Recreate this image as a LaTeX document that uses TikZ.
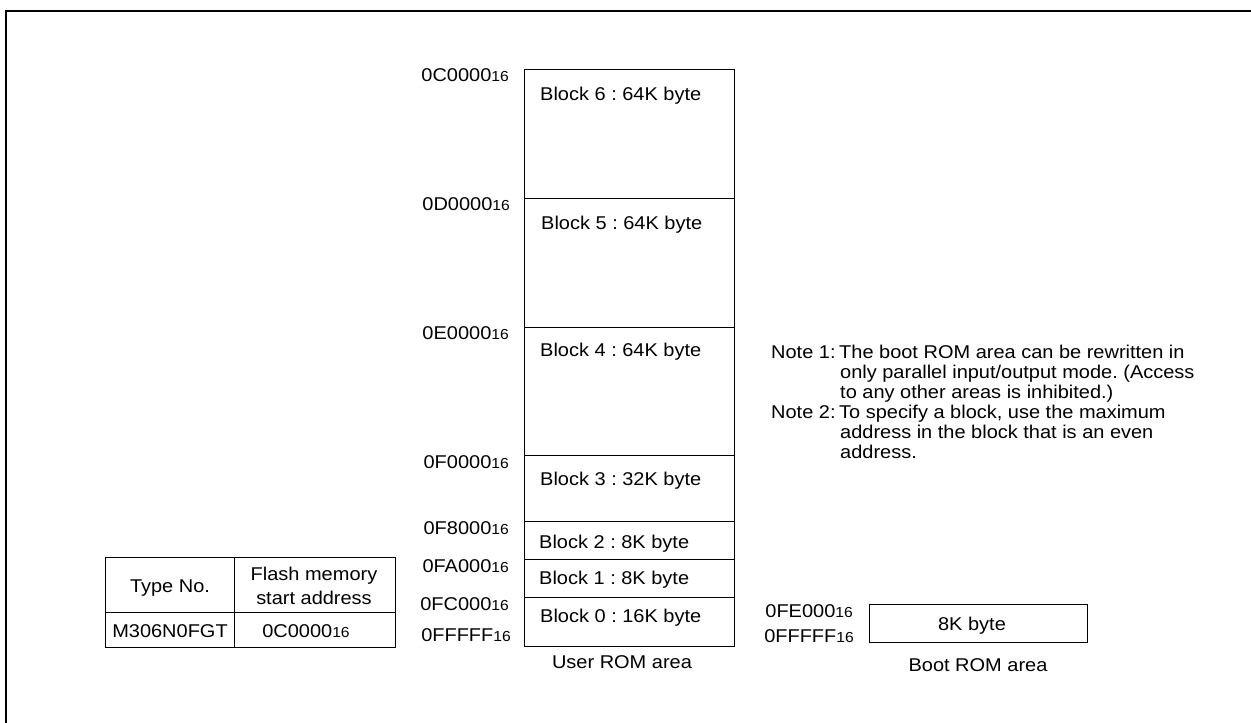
\documentclass[tikz,border=0pt]{standalone}
\usepackage{fontspec}
\setmainfont[FakeStretch=1.08]{Liberation Sans}
\frenchspacing
\newcommand\fs{\fontsize{18.5}{20}\selectfont\frenchspacing}
\newcommand\hsub[1]{{\fontsize{14.5}{14}\selectfont #1}}
\begin{document}
\begin{tikzpicture}[x=1pt,y=-1pt,
  blk/.style={draw, line width=1pt, minimum width=210pt, inner sep=0pt, anchor=north west},
  cell/.style={draw, line width=1pt, inner sep=0pt, anchor=north west},
  txt/.style={inner sep=0pt, font=\fs},
  lbl/.style={inner sep=0pt, font=\fs, anchor=base east},
  frame/.style={line width=2.6pt, line join=miter}]
\useasboundingbox (0,0) rectangle (1251,723);
% frame
\coordinate (fa) at (6,723);
\coordinate (fb) at (6,11);
\coordinate (fc) at (1251,11);
\draw[frame] (fa) -- (fb) -- (fc);
% user ROM blocks
\node[blk, minimum height=129pt] (b6) at (524,69) {};
\node[blk, minimum height=129pt] (b5) at (524,198) {};
\node[blk, minimum height=128pt] (b4) at (524,327) {};
\node[blk, minimum height=66pt] (b3) at (524,455) {};
\node[blk, minimum height=38pt] (b2) at (524,521) {};
\node[blk, minimum height=38pt] (b1) at (524,559) {};
\node[blk, minimum height=49pt] (b0) at (524,597) {};
\node[txt, anchor=base west] (t6) at (540,100) {Block 6 : 64K byte};
\node[txt, anchor=base west] (t5) at (541,229) {Block 5 : 64K byte};
\node[txt, anchor=base west] (t4) at (540,356) {Block 4 : 64K byte};
\node[txt, anchor=base west] (t3) at (540,485) {Block 3 : 32K byte};
\node[txt, anchor=base west] (t2) at (539,548) {Block 2 : 8K byte};
\node[txt, anchor=base west] (t1) at (539,584) {Block 1 : 8K byte};
\node[txt, anchor=base west] (t0) at (540,622) {Block 0 : 16K byte};
\node[txt, anchor=base] (uarea) at (622,668) {User ROM area};
% addresses
\node[lbl] (a6) at (509,81) {0C0000\hsub{16}};
\node[lbl] (a5) at (510,210) {0D0000\hsub{16}};
\node[lbl] (a4) at (509,339) {0E0000\hsub{16}};
\node[lbl] (a3) at (509,468) {0F0000\hsub{16}};
\node[lbl] (a2) at (509,534) {0F8000\hsub{16}};
\node[lbl] (a1) at (509,572) {0FA000\hsub{16}};
\node[lbl] (a0) at (509,610) {0FC000\hsub{16}};
\node[lbl] (ae) at (511,641) {0FFFFF\hsub{16}};
% table
\node[cell, minimum width=129pt, minimum height=55pt] (c11) at (105,557) {};
\node[cell, minimum width=161pt, minimum height=55pt] (c12) at (234,557) {};
\node[cell, minimum width=129pt, minimum height=35pt] (c21) at (105,612) {};
\node[cell, minimum width=161pt, minimum height=35pt] (c22) at (234,612) {};
\node[txt, anchor=base] (typeno) at (170,592) {Type No.};
\node[txt, anchor=base] (flash1) at (314,580) {Flash memory};
\node[txt, anchor=base] (flash2) at (314,604) {start address};
\node[txt, anchor=base] (typev) at (170,637) {M306N0FGT};
\node[txt, anchor=base] (addrv) at (306,637) {0C0000\hsub{16}};
% boot ROM
\node[cell, minimum width=218pt, minimum height=38pt] (boot) at (869,604) {};
\node[txt, anchor=base] (bt) at (972,630) {8K byte};
\node[txt, anchor=base] (barea) at (978,671) {Boot ROM area};
\node[lbl] (ba0) at (853,617) {0FE000\hsub{16}};
\node[lbl] (ba1) at (854,642) {0FFFFF\hsub{16}};
% notes
\node[txt, anchor=base west] (n1) at (771,358) {Note 1:};
\node[txt, anchor=base west] (n1a) at (839,358) {The boot ROM area can be rewritten in};
\node[txt, anchor=base west] (n1b) at (840,378) {only parallel input/output mode. (Access};
\node[txt, anchor=base west] (n1c) at (840,398) {to any other areas is inhibited.)};
\node[txt, anchor=base west] (n2) at (771,418) {Note 2:};
\node[txt, anchor=base west] (n2a) at (839,418) {To specify a block, use the maximum};
\node[txt, anchor=base west] (n2b) at (840,438) {address in the block that is an even};
\node[txt, anchor=base west] (n2c) at (840,458) {address.};
\end{tikzpicture}
\end{document}
